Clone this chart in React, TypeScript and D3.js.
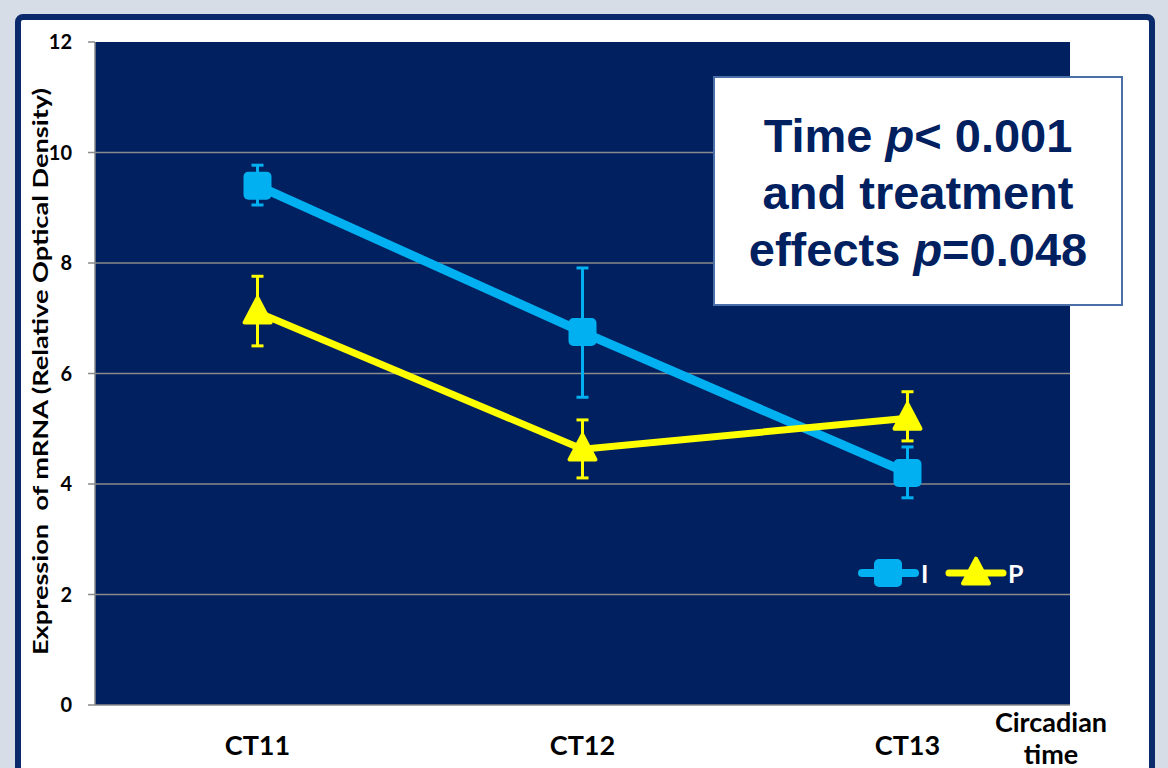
import React from 'react'
import * as d3 from 'd3'

// categories and values
const times = ['CT11', 'CT12', 'CT13']
const seriesI = [9.4, 6.75, 4.2]
const errI = [[9.05, 9.77], [5.57, 7.91], [3.75, 4.67]]
const seriesP = [7.11, 4.63, 5.19]
const errP = [[6.5, 7.76], [4.11, 5.16], [4.78, 5.67]]
const yTicks = [0, 2, 4, 6, 8, 10, 12]
const noteLines = [
  [{t: 'Time ', i: false}, {t: 'p', i: true}, {t: '< 0.001', i: false}],
  [{t: 'and treatment', i: false}],
  [{t: 'effects ', i: false}, {t: 'p', i: true}, {t: '=0.048', i: false}]
]

const W = 1168
const H = 768
const plot = {left: 95, right: 1070, top: 42, bottom: 705}
const navy = '#002060'
const blue = '#00b0f0'
const yellow = '#ffff00'
const labelFont = 'Lato, "Open Sans", sans-serif'

const x = d3.scaleBand().domain(times).range([plot.left, plot.right])
const cx = (c: string) => (x(c) as number) + x.bandwidth() / 2
const y = d3.scaleLinear().domain([0, 12]).range([plot.bottom, plot.top])

const lineGen = d3
  .line<number>()
  .x((d, i) => cx(times[i]))
  .y(d => y(d))

const triPath = (px: number, py: number, s: number) =>
  `M${px},${py - s * 0.55} L${px + s * 0.5},${py + s * 0.4} L${px - s * 0.5},${py + s * 0.4} Z`

function Square({px, py}: {px: number; py: number}) {
  return <rect x={px - 14} y={py - 14} width={28} height={28} rx={5} fill={blue} />
}

function Triangle({px, py}: {px: number; py: number}) {
  return (
    <path
      d={triPath(px, py, 26)}
      fill={yellow}
      stroke={yellow}
      strokeWidth={4}
      strokeLinejoin="round"
    />
  )
}

function ErrorBars({err, color}: {err: number[][]; color: string}) {
  return (
    <g stroke={color} strokeWidth={3}>
      {err.map((e, i) => {
        const px = cx(times[i])
        return (
          <g key={i}>
            <line x1={px} x2={px} y1={y(e[0])} y2={y(e[1])} />
            <line x1={px - 6} x2={px + 6} y1={y(e[0])} y2={y(e[0])} />
            <line x1={px - 6} x2={px + 6} y1={y(e[1])} y2={y(e[1])} />
          </g>
        )
      })}
    </g>
  )
}

export default function App() {
  return (
    <svg
      width={W}
      height={H}
      style={{position: 'absolute', left: 0, top: 0}}
    >
      <rect x={0} y={0} width={W} height={H} fill="#d6dde6" />
      <rect
        x={18}
        y={17}
        width={1134}
        height={800}
        rx={5}
        fill="#ffffff"
        stroke="#0b2a6b"
        strokeWidth={6}
      />

      {/* plot area */}
      <rect
        x={plot.left}
        y={plot.top}
        width={plot.right - plot.left}
        height={plot.bottom - plot.top}
        fill={navy}
      />
      {yTicks.filter(t => t > 0 && t < 12).map(t => (
        <line
          key={t}
          x1={plot.left}
          x2={plot.right}
          y1={y(t)}
          y2={y(t)}
          stroke="#8a8a8a"
          strokeWidth={1.5}
        />
      ))}
      <line x1={plot.left} x2={plot.right} y1={plot.bottom} y2={plot.bottom} stroke="#8a8a8a" strokeWidth={1.5} />
      <line x1={plot.left} x2={plot.left} y1={plot.top} y2={plot.bottom} stroke="#8a8a8a" strokeWidth={1.5} />

      {/* y axis */}
      {yTicks.map(t => (
        <g key={t}>
          <line x1={plot.left - 7} x2={plot.left} y1={y(t)} y2={y(t)} stroke="#8a8a8a" strokeWidth={1.5} />
          <text
            x={72}
            y={y(t) + 7}
            textAnchor="end"
            fontFamily={labelFont}
            fontWeight={700}
            fontSize={20}
            fill="#000"
          >
            {t}
          </text>
        </g>
      ))}
      <text
        transform={`translate(48, ${(88 + 655) / 2}) rotate(-90)`}
        textAnchor="middle"
        fontFamily={labelFont}
        fontWeight={700}
        fontSize={20}
        textLength={567}
        lengthAdjust="spacingAndGlyphs"
        fill="#000"
        style={{whiteSpace: 'pre'}}
      >
        Expression  of mRNA (Relative Optical Density)
      </text>

      {/* x axis labels */}
      {times.map(c => (
        <text
          key={c}
          x={cx(c)}
          y={755}
          textAnchor="middle"
          fontFamily={labelFont}
          fontWeight={700}
          fontSize={27}
          fill="#000"
        >
          {c}
        </text>
      ))}
      <text x={1051} y={732} textAnchor="middle" fontFamily={labelFont} fontWeight={700} fontSize={27} fill="#000">
        Circadian
      </text>
      <text x={1051} y={764} textAnchor="middle" fontFamily={labelFont} fontWeight={700} fontSize={27} fill="#000">
        time
      </text>

      {/* series I */}
      <ErrorBars err={errI} color={blue} />
      <path d={lineGen(seriesI) || ''} fill="none" stroke={blue} strokeWidth={9} />
      {seriesI.map((v, i) => (
        <Square key={i} px={cx(times[i])} py={y(v)} />
      ))}

      {/* series P */}
      <ErrorBars err={errP} color={yellow} />
      <path d={lineGen(seriesP) || ''} fill="none" stroke={yellow} strokeWidth={7} />
      {seriesP.map((v, i) => (
        <Triangle key={i} px={cx(times[i])} py={y(v)} />
      ))}

      {/* legend */}
      <line x1={862} x2={915} y1={573} y2={573} stroke={blue} strokeWidth={8} strokeLinecap="round" />
      <Square px={888} py={573} />
      <text x={921} y={583} fontFamily={labelFont} fontWeight={700} fontSize={25} fill="#fff">
        I
      </text>
      <line x1={949} x2={1003} y1={573} y2={573} stroke={yellow} strokeWidth={7} strokeLinecap="round" />
      <Triangle px={976} py={573} />
      <text x={1008} y={583} fontFamily={labelFont} fontWeight={700} fontSize={25} fill="#fff">
        P
      </text>

      {/* annotation */}
      <rect x={714} y={77} width={408} height={228} fill="#ffffff" stroke="#4a6ea8" strokeWidth={2} />
      {noteLines.map((parts, li) => (
        <text
          key={li}
          x={918}
          y={152 + li * 57}
          textAnchor="middle"
          fontFamily='"Liberation Sans", Arial, sans-serif'
          fontWeight={700}
          fontSize={47}
          fill={navy}
        >
          {parts.map((p, k) => (
            <tspan key={k} fontStyle={p.i ? 'italic' : 'normal'}>
              {p.t}
            </tspan>
          ))}
        </text>
      ))}
    </svg>
  )
}
